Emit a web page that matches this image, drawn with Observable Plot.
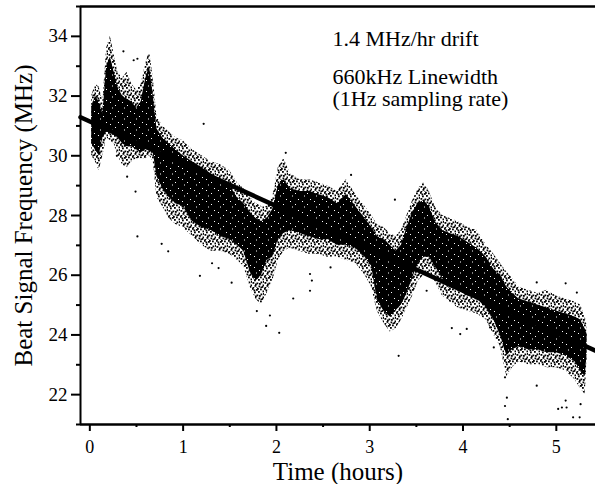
<!DOCTYPE html>
<html><head><meta charset="utf-8">
<script src="https://cdn.jsdelivr.net/npm/d3@7"></script>
<script src="https://cdn.jsdelivr.net/npm/@observablehq/plot@0.6"></script>
<style>html,body{margin:0;padding:0;background:#fff} svg{display:block}</style>
</head><body><div id="chart"></div>
<script>
// Time samples (hours) along the recorded beat signal
const times = [0.02,0.06,0.10,0.14,0.18,0.22,0.26,0.30,0.35,0.40,0.45,0.50,0.55,0.60,0.64,0.68,0.72,0.78,0.85,0.92,1.00,1.10,1.20,1.30,1.40,1.50,1.58,1.65,1.72,1.78,1.84,1.90,1.96,2.02,2.08,2.15,2.25,2.35,2.45,2.55,2.65,2.75,2.85,2.95,3.02,3.08,3.15,3.22,3.28,3.34,3.40,3.46,3.52,3.58,3.64,3.70,3.78,3.86,3.95,4.05,4.15,4.25,4.33,4.40,4.47,4.53,4.60,4.70,4.80,4.90,5.00,5.10,5.20,5.26,5.31,5.33];
// Dense core of the 1 Hz samples (MHz)
const coreHigh = [31.6,32.0,31.8,31.4,33.0,33.3,32.8,32.3,32.0,31.9,31.8,31.6,31.8,32.6,33.0,32.0,30.9,30.6,30.4,30.2,30.0,29.8,29.6,29.4,29.2,29.0,28.6,28.4,28.1,27.9,27.8,27.9,28.2,29.0,29.2,28.9,28.8,28.8,28.7,28.6,28.4,28.7,28.3,27.9,27.6,27.3,27.2,27.0,26.8,27.0,27.6,28.1,28.4,28.5,28.3,27.8,27.5,27.4,27.3,27.1,26.9,26.6,26.2,26.0,25.6,25.4,25.2,25.1,25.0,24.9,24.8,24.7,24.6,24.5,24.2,24.0];
const coreLow  = [30.4,30.2,30.0,30.6,30.8,30.8,30.7,30.6,30.4,30.3,30.3,30.2,30.1,30.2,30.3,30.1,29.3,28.9,28.6,28.4,28.3,27.8,27.6,27.5,27.3,27.2,27.0,26.8,26.1,25.8,26.0,26.5,26.6,27.2,27.4,27.5,27.4,27.3,27.2,27.2,27.0,27.0,26.9,26.6,26.3,25.2,24.8,24.6,24.8,25.0,25.4,25.9,26.4,26.6,26.6,26.3,25.9,25.6,25.5,25.3,25.2,24.9,24.5,24.0,23.3,23.5,23.6,23.5,23.5,23.4,23.4,23.3,23.1,22.8,22.6,23.4];
// Sparser halo of samples around the core (MHz)
const haloHigh = [32.0,32.4,32.3,31.8,33.6,34.0,33.4,32.8,32.6,32.8,32.4,32.2,32.4,33.1,33.5,32.6,31.3,31.0,30.8,30.6,30.5,30.2,30.0,29.8,29.7,29.5,29.1,28.9,28.6,28.4,28.3,28.3,28.6,29.6,29.9,29.4,29.2,29.2,29.1,29.0,28.8,29.2,28.7,28.3,28.0,27.7,27.6,27.4,27.3,27.5,28.0,28.5,28.9,29.1,28.8,28.3,28.0,27.9,27.8,27.6,27.5,27.0,26.7,26.4,26.1,25.9,25.6,25.5,25.4,25.5,25.3,25.2,25.1,25.0,24.6,24.3];
const haloLow  = [30.0,29.8,29.5,30.0,30.6,30.5,30.4,30.0,29.7,29.6,29.8,29.9,29.9,29.9,30.0,29.8,28.6,28.3,27.9,27.7,27.6,27.3,27.0,26.8,26.8,26.7,26.5,26.3,25.6,25.2,25.0,25.4,25.8,26.5,26.8,26.9,26.8,26.7,26.7,26.6,26.6,26.5,26.4,26.0,25.6,24.8,24.4,24.1,24.2,24.5,24.9,25.3,25.8,26.0,26.0,25.8,25.3,25.1,24.9,24.8,24.7,24.5,24.0,23.6,22.6,22.9,23.1,23.0,23.0,22.9,22.9,22.8,22.5,22.2,22.0,23.2];
// Isolated stray samples
const strayT = [0.36,0.47,0.51,0.29,0.40,0.49,0.51,0.77,0.84,1.22,1.18,1.31,1.38,1.52,1.79,1.89,1.93,2.03,2.18,2.10,2.36,2.38,2.36,2.58,2.80,3.27,3.31,3.61,3.88,3.97,4.04,4.29,4.33,4.45,4.45,4.47,4.48,4.79,4.79,5.02,5.06,5.10,5.11,5.18,5.25,5.26,5.10,5.22];
const strayV = [33.5,33.2,33.25,30.0,29.3,28.8,27.3,27.05,26.8,31.07,25.98,26.4,26.24,25.75,24.8,24.3,24.65,24.07,25.22,30.1,26.04,25.82,25.48,26.26,29.36,28.53,23.3,25.48,24.23,24.03,24.2,24.25,23.58,22.58,21.62,21.9,21.18,22.3,25.76,21.52,21.57,21.8,21.57,21.24,21.24,21.68,25.73,25.42];
// Linear drift fit (1.4 MHz/hr)
const fitT = [-0.1, 5.42];
const fitV = [31.29, 23.47];
// Ticks and labels
const yTicks = [22,24,26,28,30,32,34];
const yMinor = [21,23,25,27,29,31,33,35];
const xTicks = [0,1,2,3,4,5];
const xMinor = [0.5,1.5,2.5,3.5,4.5];
const yTitle = "Beat Signal Frequency (MHz)";
const xTitle = "Time (hours)";
const note1 = "1.4 MHz/hr drift";
const note2 = "660kHz Linewidth\n(1Hz sampling rate)";

const band = times.map((t, i) => ({t, cLo: coreLow[i], cHi: coreHigh[i], hLo: haloLow[i], hHi: haloHigh[i]}));
const stray = strayT.map((t, i) => ({t, v: strayV[i]}));
const fit = fitT.map((t, i) => ({t, v: fitV[i]}));

const chart = Plot.plot({
  width: 595, height: 484,
  marginLeft: 80, marginRight: 0, marginTop: 6, marginBottom: 60,
  style: {fontFamily: "'Liberation Serif', 'Times New Roman', serif", background: "white", color: "black"},
  x: {domain: [-0.1, 5.42]},
  y: {domain: [21, 35]},
  marks: [
    Plot.areaY(band, {x: "t", y1: "hLo", y2: "hHi", fill: "url(#speckle)"}),
    Plot.areaY(band, {x: "t", y1: "cLo", y2: "cHi", fill: "url(#core)"}),
    Plot.dot(stray, {x: "t", y: "v", r: 1.1, fill: "black"}),
    Plot.line(fit, {x: "t", y: "v", stroke: "black", strokeWidth: 4.5}),
    Plot.ruleY([35], {strokeWidth: 2.5}),
    Plot.ruleX([-0.1], {strokeWidth: 2}),
    Plot.ruleY([21], {strokeWidth: 2.5}),
    Plot.axisY(yTicks, {tickSize: 9, tickPadding: 4, fontSize: 19, strokeWidth: 2, label: null}),
    Plot.axisY(yMinor, {tickSize: 4, tickFormat: () => "", strokeWidth: 2, label: null}),
    Plot.axisX(xTicks, {tickSize: 7, tickPadding: 9, fontSize: 18, strokeWidth: 2, label: null}),
    Plot.axisX(xMinor, {tickSize: 3, tickFormat: () => "", strokeWidth: 2, label: null}),
    Plot.text([yTitle], {frameAnchor: "left", textAnchor: "middle", lineAnchor: "middle", dx: -57, rotate: -90, fontSize: 25}),
    Plot.text([xTitle], {frameAnchor: "bottom", textAnchor: "middle", lineAnchor: "middle", dy: 47, fontSize: 25}),
    Plot.text([note1], {frameAnchor: "top-left", textAnchor: "start", lineAnchor: "top", dx: 252, dy: 24, fontSize: 22}),
    Plot.text([note2], {frameAnchor: "top-left", textAnchor: "start", lineAnchor: "top", dx: 252, dy: 61, fontSize: 22, lineHeight: 1.03})
  ]
});

const ns = "http://www.w3.org/2000/svg";
const defs = document.createElementNS(ns, "defs");
const haloDots = [[0,0],[4,1],[8,0.5],[10.5,2.5],[2,3.5],[6,3],[0.5,6],[4.5,6.5],[8.5,5.5],[10.5,8.5],[2.5,9],[6.5,9.5],[8.5,11],[0.5,11],[4,11.5],[7,7],[1.5,1.5],[11,5],[5,0],[9.5,10],[3,7.5]];
const coreDots = [[2,3],[7,6],[4,8.5],[10,1]];
defs.innerHTML =
  '<pattern id="speckle" patternUnits="userSpaceOnUse" width="12" height="12">' +
  haloDots.map(([x, y]) => `<rect x="${x}" y="${y}" width="1.8" height="1.8" fill="black"/>`).join("") +
  '</pattern>' +
  '<pattern id="core" patternUnits="userSpaceOnUse" width="12" height="11">' +
  '<rect width="12" height="11" fill="black"/>' +
  coreDots.map(([x, y]) => `<rect x="${x}" y="${y}" width="1" height="1" fill="white"/>`).join("") +
  '</pattern>';
chart.prepend(defs);
document.getElementById("chart").append(chart);
</script>
</body></html>
